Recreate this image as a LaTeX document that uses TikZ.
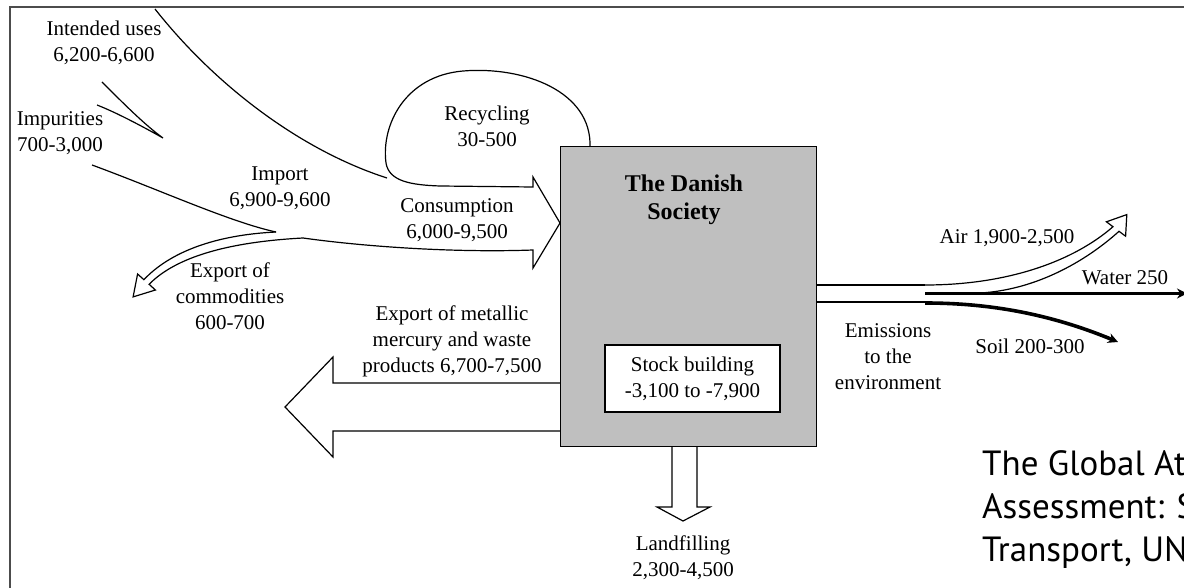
\documentclass[tikz,border=0pt]{standalone}
\usepackage{fontspec}
\setmainfont{Liberation Serif}
\newfontfamily\capsans{PT Sans}
\usetikzlibrary{arrows.meta}
\begin{document}
\begin{tikzpicture}[x=1pt,y=-1pt,
  lab/.style={font=\fontsize{21}{26}\selectfont, align=center, inner sep=0pt},
  outl/.style={draw=black, line width=1.2pt, line join=miter},
  blockarrow/.style={outl, fill=white},
  thickflow/.style={draw=black, line width=3.6pt, -{Stealth[length=10pt,width=10pt]}},
  frameline/.style={draw=black!70, line width=2pt},
  captext/.style={font=\capsans\fontsize{35}{43}\selectfont, align=left, inner sep=0pt, anchor=west}]
\useasboundingbox (0,0) rectangle (1184,588);
\fill[white] (0,0) rectangle (1184,588);
\draw[frameline] (1190,7) -- (10,7) -- (10,595);

% block arrows (drawn before the box so the box covers their ends)
\draw[blockarrow] (562,383) -- (333,383) -- (333,357) -- (285,407) -- (333,457) -- (333,431) -- (562,431);
\draw[blockarrow] (672,444) -- (672,507) -- (657,507) -- (683,521) -- (710,507) -- (697,507) -- (697,444);

% the Danish Society box
\node[draw, line width=1.2pt, fill=black!25, minimum width=256pt, minimum height=300pt, anchor=north west, inner sep=0pt] (soc) at (560,146) {};
\node[font=\fontsize{24}{28}\selectfont\bfseries, align=center, inner sep=0pt] (soctitle) at (684,200) {The Danish\\Society};
\node[draw, fill=white, line width=1.2pt, minimum width=175pt, minimum height=67pt, lab] (stock) at (692.5,378.5) {Stock building\\-3,100 to -7,900};

% inflows
\draw[outl] (155,9) .. controls (215,85) and (300,150) .. (387,178);
\draw[outl] (102,82) .. controls (125,105) and (145,125) .. (163,138) .. controls (140,125) and (115,112) .. (97,105);
\draw[outl] (92,165) .. controls (160,190) and (230,222) .. (276,232);
% recycling loop + consumption arrow
\draw[outl] (590,147) .. controls (592,92) and (525,66) .. (463,71) .. controls (405,76) and (381,125) .. (386,163) .. controls (389,181) and (410,185) .. (440,186) -- (533,187) -- (533,177) -- (560,223) -- (533,268) -- (533,250) .. controls (450,253) and (360,246) .. (303,238);
% export of commodities (hollow arrow)
\draw[outl] (276,232) .. controls (215,235) and (170,252) .. (143.9,279.7) -- (137.6,274) -- (133.1,296.9) -- (155.4,290) -- (149.1,284.3) .. controls (176,257) and (228,242) .. (303,238);

% emissions channel
\draw[outl] (816,285) -- (925,285);
\draw[outl] (816,302) -- (925,302);
% air (hollow arrow)
\draw[outl] (925,285) .. controls (1010,285) and (1075,260) .. (1113,226.7) -- (1106.4,221.8) -- (1126.8,214.6) -- (1125.6,236.2) -- (1119,231.3) .. controls (1085,262) and (1035,290) .. (980,293);
% water and soil
\coordinate (wstart) at (925,293.5);
\coordinate (wend) at (1187,293.5);
\draw[thickflow] (wstart) -- (wend);
\coordinate (sstart) at (925,303);
\coordinate (send) at (1118,342);
\draw[thickflow] (sstart) .. controls (1000,303) and (1060,318) .. (send);

% labels
\node[lab] (l1) at (104,43) {Intended uses\\6,200-6,600};
\node[lab] (l2) at (60,133) {Impurities\\700-3,000};
\node[lab] (l3) at (280,188) {Import\\6,900-9,600};
\node[lab] (l4) at (487,126) {Recycling\\30-500};
\node[lab] (l5) at (457,220) {Consumption\\6,000-9,500};
\node[lab] (l6) at (230,296) {Export of\\commodities\\600-700};
\node[lab] (l7) at (452,341) {Export of metallic\\mercury and waste\\products 6,700-7,500};
\node[lab] (l8) at (683,558) {Landfilling\\2,300-4,500};
\node[lab] (l9) at (888,357) {Emissions\\to the\\environment};
\node[lab] (l10) at (1007,238) {Air 1,900-2,500};
\node[lab] (l11) at (1125,278) {Water 250};
\node[lab] (l12) at (1030,346) {Soil 200-300};

\node[captext] (cap) at (982,510) {The Global At\\Assessment: S\\Transport, UN};
\end{tikzpicture}
\end{document}
